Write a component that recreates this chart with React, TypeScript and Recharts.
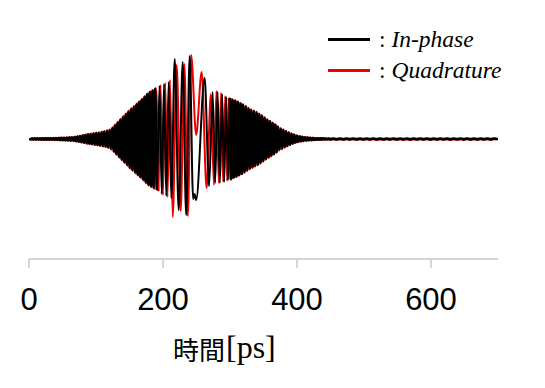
import { LineChart, Line, XAxis, YAxis, Legend } from 'recharts';

// peak samples of the dense parts: fixed time step in ps, values
const inPhaseLead = [
  0.004, -0.005, 0.005, -0.004, 0.005, -0.005, 0.006, -0.005, 0.005, -0.006,
  0.006, -0.006, 0.007, -0.006, 0.007, -0.007, 0.008, -0.007, 0.008, -0.008,
  0.009, -0.009, 0.010, -0.010, 0.011, -0.012, 0.012, -0.013, 0.013, -0.014,
  0.015, -0.016, 0.017, -0.018, 0.020, -0.022, 0.024, -0.026, 0.029, -0.032,
];
const quadratureLead = [
  0.005, -0.005, 0.006, -0.005, 0.006, -0.006, 0.006, -0.006, 0.007, -0.006,
  0.007, -0.007, 0.007, -0.007, 0.008, -0.008, 0.008, -0.008, 0.009, -0.009,
  0.010, -0.010, 0.011, -0.011, 0.012, -0.012, 0.013, -0.013, 0.014, -0.015,
  0.016, -0.017, 0.018, -0.019, 0.021, -0.023, 0.025, -0.027, 0.030, -0.033,
];

const inPhaseRise = [
  0.035, -0.038, 0.040, -0.043, 0.046, -0.047, 0.050, -0.051, 0.055, -0.056,
  0.059, -0.060, 0.063, -0.066, 0.068, -0.070, 0.074, -0.077, 0.082, -0.085,
  0.090, -0.097, 0.110, -0.121, 0.135, -0.148, 0.165, -0.176, 0.192, -0.203,
  0.220, -0.231, 0.247, -0.258, 0.275, -0.287, 0.300, -0.310, 0.323, -0.333,
  0.345, -0.355, 0.368, -0.378, 0.392, -0.402, 0.418, -0.430, 0.446, -0.455,
  0.466, -0.472, 0.482, -0.488, 0.500,
];
const quadratureRise = [
  0.037, -0.039, 0.042, -0.045, 0.047, -0.049, 0.052, -0.053, 0.057, -0.058,
  0.061, -0.062, 0.065, -0.068, 0.071, -0.073, 0.077, -0.080, 0.085, -0.089,
  0.094, -0.104, 0.117, -0.129, 0.143, -0.157, 0.172, -0.185, 0.199, -0.213,
  0.228, -0.240, 0.255, -0.267, 0.283, -0.295, 0.307, -0.318, 0.330, -0.341,
  0.352, -0.363, 0.375, -0.386, 0.400, -0.412, 0.427, -0.440, 0.453, -0.463,
  0.472, -0.480, 0.488, -0.495, 0.506,
];

// turning points around the slow centre of the pulse
const inPhaseCoreTime = [
  191.0, 194.8, 198.1, 201.5, 204.9, 208.5, 212.4, 217.5, 223.4, 229.4,
  234.6, 239.8, 245.0, 247.2, 249.5, 262.1, 268.8, 274.1, 277.8, 281.5,
  284.9, 288.2, 291.3, 294.3, 297.1, 299.8,
];
const inPhaseCore = [
  -0.51, 0.53, -0.55, 0.55, -0.57, 0.57, -0.59, 0.80, -0.71, 0.77,
  -0.76, 0.83, -0.60, -0.55, -0.61, 0.61, -0.47, 0.47, -0.44, 0.47,
  -0.44, 0.45, -0.43, 0.42, -0.41, 0.41,
];
const quadratureCoreTime = [
  193.0, 196.4, 199.9, 203.3, 206.7, 210.4, 214.5, 220.4, 226.4, 231.9,
  237.1, 242.0, 249.5, 257.7, 265.1, 271.5, 276.0, 279.7, 283.3, 286.6,
  289.7, 292.8, 295.6, 298.5,
];
const quadratureCore = [
  -0.52, 0.54, -0.56, 0.56, -0.58, 0.59, -0.78, 0.74, -0.72, 0.75,
  -0.77, 0.84, 0.04, 0.67, -0.49, 0.45, -0.46, 0.48, -0.44, 0.46,
  -0.43, 0.43, -0.42, 0.41,
];

const inPhaseFall = [
  -0.400, 0.390, -0.384, 0.381, -0.374, 0.369, -0.360, 0.354, -0.346, 0.341,
  -0.332, 0.326, -0.314, 0.306, -0.297, 0.291, -0.284, 0.279, -0.269, 0.266,
  -0.256, 0.249, -0.239, 0.231, -0.219, 0.211, -0.199, 0.193, -0.182, 0.176,
  -0.166, 0.159, -0.149, 0.141, -0.129, 0.121, -0.109, 0.104, -0.096, 0.091,
  -0.082, 0.078, -0.069, 0.065, -0.057, 0.053, -0.045, 0.042, -0.035, 0.033,
  -0.027, 0.026, -0.022, 0.021, -0.019, 0.018, -0.016, 0.015, -0.013, 0.012,
  -0.011, 0.010, -0.009, 0.008, -0.008, 0.007, -0.007, 0.006, -0.006, 0.006,
  -0.005, 0.005, -0.005, 0.005, -0.005,
];
const quadratureFall = [
  -0.405, 0.396, -0.388, 0.384, -0.378, 0.372, -0.364, 0.358, -0.350, 0.344,
  -0.337, 0.330, -0.320, 0.311, -0.302, 0.295, -0.288, 0.282, -0.274, 0.269,
  -0.261, 0.253, -0.244, 0.236, -0.225, 0.216, -0.205, 0.197, -0.187, 0.180,
  -0.171, 0.163, -0.154, 0.145, -0.135, 0.125, -0.114, 0.107, -0.100, 0.094,
  -0.086, 0.080, -0.073, 0.067, -0.060, 0.055, -0.048, 0.044, -0.038, 0.034,
  -0.029, 0.027, -0.024, 0.022, -0.020, 0.019, -0.017, 0.016, -0.014, 0.013,
  -0.012, 0.011, -0.010, 0.009, -0.008, 0.008, -0.007, 0.007, -0.006, 0.006,
  -0.006, 0.005, -0.005, 0.005, -0.005,
];

const inPhaseTail = [
  0.004, -0.005, 0.004, -0.004, 0.005, -0.004, 0.004, -0.005, 0.004, -0.004,
  0.005, -0.004, 0.004, -0.005, 0.004, -0.004, 0.005, -0.004, 0.004, -0.004,
  0.005, -0.004, 0.004, -0.005, 0.004, -0.004, 0.005, -0.004, 0.004, -0.005,
  0.004, -0.004, 0.005, -0.004, 0.004, -0.005, 0.004, -0.004, 0.005, -0.004,
  0.004, -0.005, 0.004, -0.004, 0.005, -0.004, 0.004, -0.005, 0.004, -0.004,
];
const quadratureTail = [
  0.005, -0.004, 0.005, -0.005, 0.004, -0.005, 0.005, -0.004, 0.005, -0.005,
  0.004, -0.005, 0.005, -0.004, 0.005, -0.005, 0.004, -0.005, 0.005, -0.004,
  0.005, -0.005, 0.004, -0.005, 0.005, -0.004, 0.005, -0.005, 0.004, -0.005,
  0.005, -0.004, 0.005, -0.005, 0.004, -0.005, 0.005, -0.004, 0.005, -0.005,
  0.004, -0.005, 0.005, -0.004, 0.005, -0.005, 0.004, -0.005, 0.005, -0.004,
];

const timeTicks = [0, 200, 400, 600];

type Pt = { t: number; v: number };
const sampled = (start: number, step: number, values: number[]): Pt[] =>
  values.map((v, i) => ({ t: start + i * step, v }));
const paired = (times: number[], values: number[]): Pt[] =>
  times.map((t, i) => ({ t, v: values[i] }));

// dense parts get a heavier stroke so they fill in like the original
function splitSeries(left: Pt[], core: Pt[], right: Pt[]) {
  return {
    left: [...left, core[0]],
    core: [left[left.length - 1], ...core, right[0]],
    right: [core[core.length - 1], ...right],
  };
}

const inPhase = splitSeries(
  [...sampled(0, 2, inPhaseLead), ...sampled(80, 2, inPhaseRise)],
  paired(inPhaseCoreTime, inPhaseCore),
  [...sampled(302, 2, inPhaseFall), ...sampled(455, 5, inPhaseTail)],
);
const quadrature = splitSeries(
  [...sampled(1, 2, quadratureLead), ...sampled(81, 2, quadratureRise)],
  paired(quadratureCoreTime, quadratureCore),
  [...sampled(301, 2, quadratureFall), ...sampled(452, 5, quadratureTail)],
);

const BLACK = '#000000';
const RED = '#ee0000';
const serif = "'Liberation Serif', 'Times New Roman', serif";

function SeriesLegend() {
  const rows = [
    { name: 'In-phase', color: BLACK },
    { name: 'Quadrature', color: RED },
  ];
  return (
    <div style={{ fontFamily: serif, fontSize: 23.5, color: '#000' }}>
      {rows.map((r) => (
        <div key={r.name} style={{ display: 'flex', alignItems: 'center', height: 31, lineHeight: '31px', whiteSpace: 'nowrap' }}>
          <div style={{ width: 42, height: 3, background: r.color, marginRight: 9 }} />
          <span>:&nbsp;<i>{r.name}</i></span>
        </div>
      ))}
    </div>
  );
}

function AxisTitle() {
  return (
    <g fill="#000">
      <text x={173} y={360} fontFamily="'Noto Sans CJK JP', sans-serif" fontSize={26}>時間</text>
      <text x={226} y={358} fontFamily={serif} fontSize={32}>[ps]</text>
    </g>
  );
}

const renderLine = (data: Pt[], color: string, width: number, key: string) => (
  <Line
    key={key}
    data={data}
    dataKey="v"
    type="monotone"
    stroke={color}
    strokeWidth={width}
    dot={false}
    legendType="none"
    isAnimationActive={false}
  />
);

export default function App() {
  return (
    <div style={{ position: 'absolute', left: 0, top: 0, width: 545, height: 388, background: '#fff' }}>
      <LineChart width={545} height={388} margin={{ top: 19, right: 47, bottom: 29, left: 29 }}>
        <XAxis
          dataKey="t"
          type="number"
          domain={[0, 700]}
          ticks={timeTicks}
          allowDataOverflow
          height={100}
          tickSize={9}
          tickMargin={20}
          axisLine={{ stroke: '#c8c8c8', strokeWidth: 1.5 }}
          tickLine={{ stroke: '#c8c8c8', strokeWidth: 1.5 }}
          tick={{ fill: '#000', fontSize: 31, fontFamily: "'Liberation Sans', Arial, sans-serif" }}
          label={<AxisTitle />}
        />
        <YAxis hide type="number" domain={[-1.2, 1.2]} allowDataOverflow />
        <Legend
          layout="horizontal"
          verticalAlign="middle"
          align="center"
          content={() => <SeriesLegend />}
          wrapperStyle={{ position: 'absolute', left: 328, top: 24, width: 210, height: 62 }}
        />
        {renderLine(quadrature.left, RED, 2.6, 'q-left')}
        {renderLine(quadrature.core, RED, 2, 'q-core')}
        {renderLine(quadrature.right, RED, 2.6, 'q-right')}
        {renderLine(inPhase.left, BLACK, 2.6, 'i-left')}
        {renderLine(inPhase.core, BLACK, 2, 'i-core')}
        {renderLine(inPhase.right, BLACK, 2.6, 'i-right')}
      </LineChart>
    </div>
  );
}
